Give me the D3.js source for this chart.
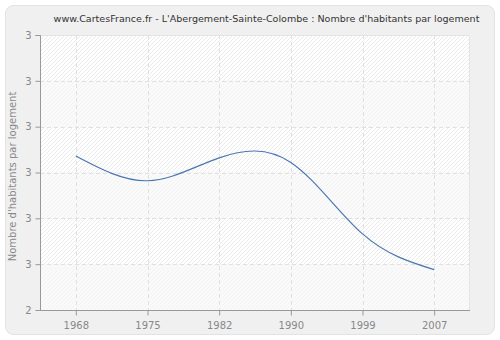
<!DOCTYPE html>
<html>
<head>
<meta charset="utf-8">
<script src="https://cdn.jsdelivr.net/npm/d3@7"></script>
<style>
  html, body { margin: 0; padding: 0; background: #ffffff; }
  svg { display: block; }
  text { font-family: "DejaVu Sans", Verdana, sans-serif; }
</style>
</head>
<body>
<svg id="chart" width="500" height="340"></svg>
<script>
// Census years and average number of inhabitants per dwelling
const years = ["1968", "1975", "1982", "1990", "1999", "2007"];
const values = [2.628, 2.601, 2.626, 2.621, 2.543, 2.504];
const yTicks = [2.46, 2.51, 2.56, 2.61, 2.66, 2.71, 2.76];

const title = "www.CartesFrance.fr - L'Abergement-Sainte-Colombe : Nombre d'habitants par logement";
const yTitle = "Nombre d'habitants par logement";

const W = 500, H = 340;
const plot = { left: 40, right: 470, top: 35, bottom: 310 };

const svg = d3.select("#chart");
const defs = svg.append("defs");

// diagonal hatching used inside the plot area
function hatch(id, bg, stroke) {
  const p = defs.append("pattern")
    .attr("id", id)
    .attr("patternUnits", "userSpaceOnUse")
    .attr("width", 4).attr("height", 4);
  p.append("rect").attr("width", 4).attr("height", 4).attr("fill", bg);
  p.append("path")
    .attr("d", "M-1,1 l2,-2 M0,4 l4,-4 M3,5 l2,-2")
    .attr("stroke", stroke).attr("stroke-width", 1);
}
hatch("hatchStrong", "#ffffff", "#ebebeb");
hatch("hatchLight", "#fafafa", "#f3f3f3");

// outer panel
svg.append("rect")
  .attr("x", 5.5).attr("y", 5.5)
  .attr("width", W - 11).attr("height", H - 11)
  .attr("rx", 8).attr("ry", 8)
  .attr("fill", "#f0f0f0")
  .attr("stroke", "#e2e2e2");

const x = d3.scalePoint()
  .domain(years)
  .range([plot.left, plot.right])
  .padding(0.5);

const y = d3.scaleLinear()
  .domain([yTicks[0], yTicks[yTicks.length - 1]])
  .range([plot.bottom, plot.top]);

// alternating background bands between horizontal grid lines
const bands = d3.pairs(yTicks).reverse();
svg.append("g").selectAll("rect")
  .data(bands)
  .join("rect")
  .attr("x", plot.left)
  .attr("width", plot.right - plot.left)
  .attr("y", d => y(d[1]))
  .attr("height", d => y(d[0]) - y(d[1]))
  .attr("fill", (d, i) => i % 2 === 0 ? "url(#hatchStrong)" : "url(#hatchLight)");

// frame on the right and top edges
svg.append("path")
  .attr("d", `M${plot.left},${plot.top + 0.5}H${plot.right - 0.5}V${plot.bottom}`)
  .attr("fill", "none")
  .attr("stroke", "#e4e4e4");

// grid
const grid = svg.append("g")
  .attr("stroke", "#e0e0e0")
  .attr("stroke-dasharray", "4,3")
  .attr("fill", "none");
grid.selectAll("line.h")
  .data(yTicks.slice(1, -1))
  .join("line")
  .attr("class", "h")
  .attr("x1", plot.left).attr("x2", plot.right)
  .attr("y1", d => Math.round(y(d)) + 0.5)
  .attr("y2", d => Math.round(y(d)) + 0.5);
grid.selectAll("line.v")
  .data(years)
  .join("line")
  .attr("class", "v")
  .attr("x1", d => Math.round(x(d)) + 0.5)
  .attr("x2", d => Math.round(x(d)) + 0.5)
  .attr("y1", plot.top).attr("y2", plot.bottom);

// axes
const fmt = d3.format(".0f");
const yAxis = svg.append("g")
  .attr("transform", `translate(${plot.left + 0.5},0)`)
  .call(d3.axisLeft(y).tickValues(yTicks).tickFormat(fmt).tickSize(5).tickPadding(4));
const xAxis = svg.append("g")
  .attr("transform", `translate(0,${plot.bottom + 0.5})`)
  .call(d3.axisBottom(x).tickSize(5).tickPadding(6));

[yAxis, xAxis].forEach(g => {
  g.select(".domain").attr("stroke", "#999999");
  g.selectAll(".tick line").attr("stroke", "#999999");
  g.selectAll(".tick text")
    .attr("fill", "#888888")
    .style("font-family", "'DejaVu Sans', Verdana, sans-serif")
    .style("font-size", "10px");
});
yAxis.select(".domain").attr("d", `M-5,${plot.top + 0.5}H0V${plot.bottom}`);
xAxis.select(".domain").attr("d", `M${plot.left},0H${plot.right}`);

// data line, natural cubic spline through the census points
const line = d3.line()
  .x((d, i) => x(years[i]))
  .y(d => y(d))
  .curve(d3.curveNatural);

svg.append("path")
  .datum(values)
  .attr("d", line)
  .attr("fill", "none")
  .attr("stroke", "#4a78b0")
  .attr("stroke-width", 1.2);

// titles
svg.append("text")
  .attr("x", 266.5).attr("y", 22)
  .attr("text-anchor", "middle")
  .attr("fill", "#333333")
  .style("font-size", "9.55px")
  .text(title);

svg.append("text")
  .attr("transform", `translate(16,${(plot.top + plot.bottom) / 2 + 4}) rotate(-90)`)
  .attr("text-anchor", "middle")
  .attr("fill", "#888888")
  .style("font-size", "10px")
  .text(yTitle);
</script>
</body>
</html>
